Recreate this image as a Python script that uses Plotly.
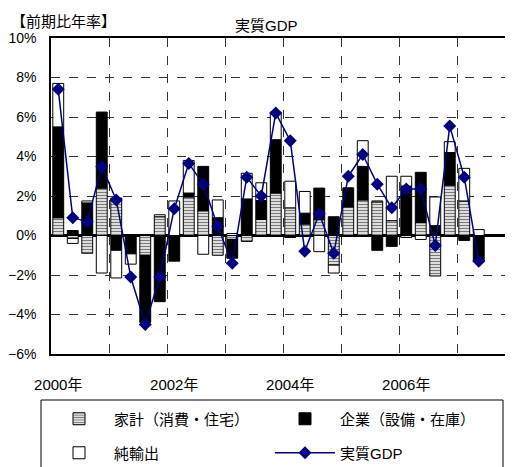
import plotly.graph_objects as go

axis_quarters = [f"{y}Q{q}" for y in range(2000, 2008) for q in range(1, 5)]
year_labels = {"2000Q1": "2000年", "2001Q1": " ", "2002Q1": "2002年", "2003Q1": " ",
               "2004Q1": "2004年", "2005Q1": " ", "2006Q1": "2006年", "2007Q1": " "}

household = [0.9, -0.15, -0.9, 2.4, 1.9, 0.0, -1.0, 0.95, 0.0, 1.95,
             1.25, -1.0, -0.2, -0.3, 0.82, 2.15, 1.4, 0.58, 0.8, -1.5,
             1.45, 1.8, 1.7, 0.75, -0.1, 0.65, -2.05, 2.55, 1.75, 0.0]
corporate = [4.6, 0.25, 1.65, 3.85, -0.75, -0.93, -3.4, -3.35, -1.3, 0.2,
             2.25, 0.9, -0.95, 1.85, 0.95, 2.7, -0.1, 0.55, 1.6, 0.95,
             0.95, 1.7, -0.75, -0.55, 2.5, 2.55, 0.5, 1.65, -0.25, -1.3]
net_exports = [2.2, -0.25, 0.1, -1.9, -1.4, -0.52, 0.0, 0.1, 1.75, 1.65,
               -0.95, 0.9, 0.1, 1.3, 0.9, 1.4, 1.35, 1.1, -0.82, -0.4,
               0.0, 1.3, 0.05, 2.25, 0.5, -0.2, 1.45, 0.55, 1.65, 0.3]
real_gdp = [7.4, 0.9, 0.7, 3.5, 1.8, -2.1, -4.5, -2.1, 1.35, 3.65,
            2.6, 0.45, -1.4, 2.95, 2.0, 6.2, 4.8, -0.8, 1.1, -0.9,
            3.0, 4.1, 2.6, 1.4, 2.35, 2.35, -0.5, 5.55, 2.95, -1.3]

x = axis_quarters[:len(real_gdp)]
FONT = "Liberation Sans, Arial, Noto Sans CJK JP, sans-serif"

fig = go.Figure()
fig.add_trace(go.Bar(
    x=x, y=household, name="家計（消費・住宅）", legend="legend",
    marker=dict(color="white", line=dict(color="black", width=1),
                pattern=dict(shape="-", size=3, solidity=0.45,
                             fgcolor="#7a7a7a", bgcolor="#f2f2f2", fillmode="replace")),
))
fig.add_trace(go.Bar(
    x=x, y=corporate, name="企業（設備・在庫）", legend="legend",
    marker=dict(color="black", line=dict(color="black", width=1)),
))
fig.add_trace(go.Bar(
    x=x, y=net_exports, name="純輸出", legend="legend2",
    marker=dict(color="white", line=dict(color="black", width=1)),
))
fig.add_trace(go.Scatter(
    x=x, y=real_gdp, name="実質GDP", legend="legend2", mode="lines+markers",
    line=dict(color="#000080", width=1.5),
    marker=dict(symbol="diamond", size=10, color="#000080"),
))

# The page body keeps its default 8px margin, so the figure is drawn from (8, 8);
# reference pixel positions are converted with OFF.
OFF = 8
W, H = 513 - OFF, 467 - OFF
L, R, T = 51 - OFF, 0, 38 - OFF
plot_bottom = 354 - OFF
B = H - plot_bottom
pw, ph = W - L - R, H - T - B

def px_x(p):
    return (p - OFF - L) / pw

def px_y(p):
    return (plot_bottom - (p - OFF)) / ph

x_range = [-0.5, pw / 14.5 - 0.5]

leg_common = dict(orientation="h", x=px_x(44), xanchor="left", yanchor="middle",
                  entrywidth=151, entrywidthmode="pixels", itemwidth=60,
                  font=dict(size=15), bgcolor="rgba(0,0,0,0)", traceorder="normal")

fig.update_layout(
    width=W, height=H,
    margin=dict(l=L, r=R, t=T, b=B, autoexpand=False),
    paper_bgcolor="white", plot_bgcolor="white",
    barmode="relative", bargap=0.25,
    font=dict(family=FONT, size=15, color="black"),
    legend=dict(y=px_y(419), **leg_common),
    legend2=dict(y=px_y(453), **leg_common),
    shapes=[dict(type="rect", xref="paper", yref="paper",
                 x0=px_x(41), x1=px_x(503), y0=px_y(400), y1=px_y(480),
                 line=dict(color="black", width=1), fillcolor="rgba(0,0,0,0)")],
    annotations=[
        dict(text="【前期比年率】", xref="paper", yref="paper", x=px_x(9), y=px_y(22),
             xanchor="left", yanchor="middle", showarrow=False, font=dict(size=15)),
        dict(text="実質GDP", xref="paper", yref="paper", x=px_x(266), y=px_y(25),
             xanchor="center", yanchor="middle", showarrow=False, font=dict(size=15)),
    ],
    xaxis=dict(
        type="category", categoryorder="array", categoryarray=axis_quarters,
        range=x_range, tickmode="linear", tick0=0, dtick=4,
        tickson="boundaries", labelalias=year_labels, tickangle=0,
        showgrid=True, gridcolor="#333333", griddash="dash", gridwidth=1,
        ticks="", ticklabelstandoff=16,
        showline=True, linecolor="black", linewidth=1.5, mirror=True,
        zeroline=False, tickfont=dict(size=15),
    ),
    yaxis=dict(
        range=[-6, 10], dtick=2, ticksuffix="%",
        showgrid=True, gridcolor="#333333", griddash="dash", gridwidth=1,
        zeroline=True, zerolinecolor="black", zerolinewidth=2.5,
        showline=True, linecolor="black", linewidth=1.5, mirror=True,
        ticks="", ticklabelstandoff=10, tickfont=dict(size=14),
        layer="above traces",
    ),
)

fig.write_html("out.html")
